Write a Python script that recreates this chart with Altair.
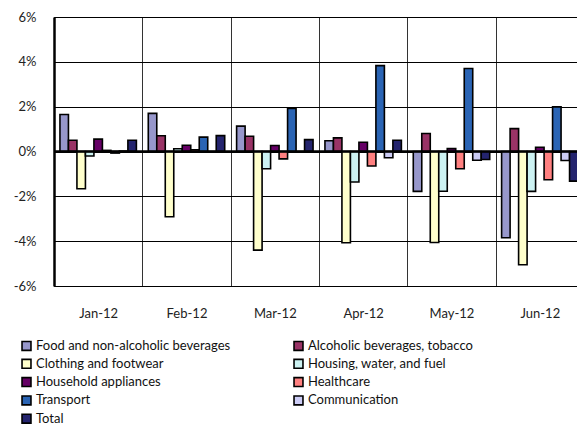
import altair as alt
import pandas as pd

# Monthly price changes by consumer category (percent)
months = ["Jan-12", "Feb-12", "Mar-12", "Apr-12", "May-12", "Jun-12"]
categories = [
    "Food and non-alcoholic beverages",
    "Alcoholic beverages, tobacco",
    "Clothing and footwear",
    "Housing, water, and fuel",
    "Household appliances",
    "Healthcare",
    "Transport",
    "Communication",
    "Total",
]
colors = [
    "#9797CB", "#993366", "#FFFFCC", "#CCF2F2", "#660066",
    "#FF8080", "#2A64B4", "#CCCCF5", "#24246E",
]

food = [1.65, 1.70, 1.13, 0.48, -1.78, -3.85]
alcohol = [0.50, 0.70, 0.68, 0.61, 0.80, 1.02]
clothing = [-1.66, -2.91, -4.40, -4.07, -4.06, -5.05]
housing = [-0.20, 0.12, -0.77, -1.36, -1.77, -1.78]
household = [0.55, 0.28, 0.27, 0.41, 0.13, 0.19]
healthcare = [0.05, 0.08, -0.33, -0.65, -0.77, -1.26]
transport = [-0.07, 0.64, 1.92, 3.83, 3.70, 1.99]
communication = [0.02, -0.02, -0.02, -0.28, -0.39, -0.40]
total = [0.50, 0.71, 0.53, 0.50, -0.36, -1.32]

series = [food, alcohol, clothing, housing, household,
          healthcare, transport, communication, total]

rows = []
for cat, vals in zip(categories, series):
    for m, v in zip(months, vals):
        rows.append({"month": m, "category": cat, "value": v})
df = pd.DataFrame(rows)

FONT = "Lato"

bars = alt.Chart(df).mark_bar(stroke="black", strokeWidth=1.6).encode(
    x=alt.X(
        "month:N",
        sort=months,
        scale=alt.Scale(paddingInner=0, paddingOuter=0),
        axis=alt.Axis(
            title=None, labelAngle=0, ticks=False, domain=False,
            grid=True, tickBand="extent", gridColor="#333333", gridWidth=1,
            labelPadding=21, labelFontSize=13, labelColor="#222222",
            labelFont=FONT,
        ),
    ),
    xOffset=alt.XOffset(
        "category:N", sort=categories,
        scale=alt.Scale(paddingInner=0, paddingOuter=0.7),
    ),
    y=alt.Y(
        "value:Q",
        scale=alt.Scale(domain=[-6, 6], nice=False),
        axis=alt.Axis(
            title=None, values=[-6, -4, -2, 0, 2, 4, 6], ticks=False,
            labelExpr="datum.value + '%'", labelPadding=18,
            labelFontSize=13, labelColor="#222222", labelFont=FONT,
            domain=True, domainColor="black", domainWidth=2.5,
            grid=True, gridColor="black", gridWidth=1,
        ),
    ),
    color=alt.Color(
        "category:N",
        scale=alt.Scale(domain=categories, range=colors),
        legend=alt.Legend(
            title=None, orient="none", legendX=-34, legendY=322,
            direction="horizontal", columns=2, columnPadding=59,
            rowPadding=1.3,
            symbolType="square", symbolSize=80,
            symbolStrokeColor="black", symbolStrokeWidth=1.6,
            symbolOpacity=1,
            labelFontSize=13, labelFont=FONT, labelColor="#111111",
            labelLimit=300, labelOffset=3,
        ),
    ),
)

zero = alt.Chart(pd.DataFrame({"y": [0]})).mark_rule(
    color="black", strokeWidth=2.4
).encode(y="y:Q")

chart = alt.layer(bars, zero).properties(
    width=530, height=269,
    autosize=alt.AutoSizeParams(type="none"),
    padding={"left": 54, "top": 17, "right": -7, "bottom": 140},
).configure_view(stroke="black", strokeWidth=1)

chart.save("out.html", embed_options={"renderer": "svg", "actions": False})
